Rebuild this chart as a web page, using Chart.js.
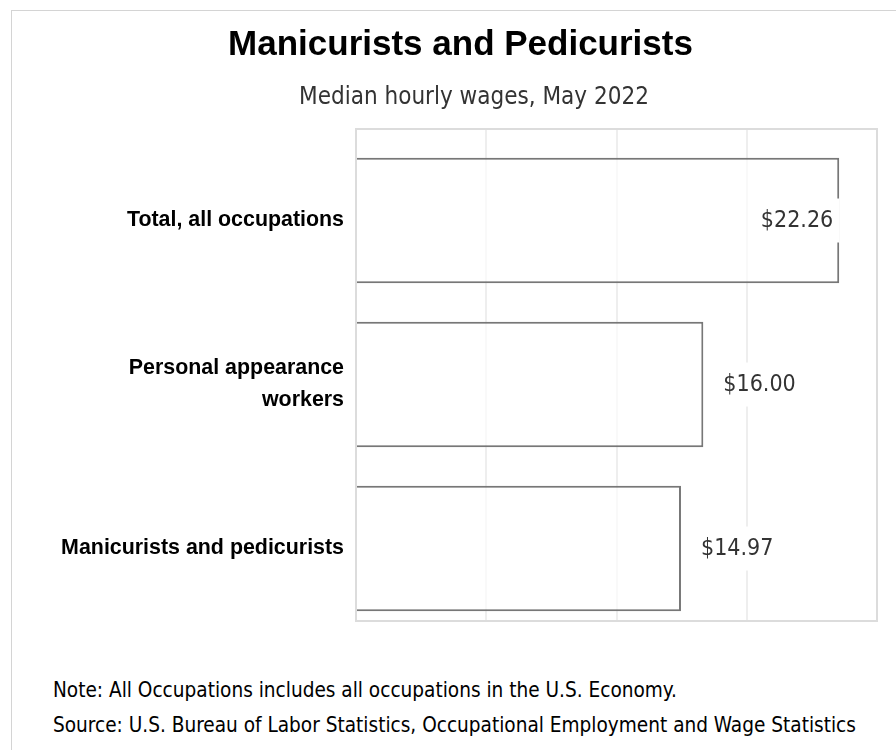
<!DOCTYPE html>
<html>
<head>
<meta charset="utf-8">
<title>Manicurists and Pedicurists</title>
<script src="https://cdn.jsdelivr.net/npm/chart.js@4.4.1/dist/chart.umd.min.js"></script>
<style>
    html, body { margin: 0; padding: 0; background: #fff; overflow: hidden; }
    .frame {
        position: absolute; left: 11px; top: 10px; width: 1000px; height: 1000px;
        border-left: 1px solid #d4d4d4; border-top: 1px solid #d4d4d4;
    }
    #wageChart { position: absolute; left: 0; top: 0; }
    .title {
        position: absolute; left: 0; top: 23px; width: 921px; text-align: center;
        font-family: 'Liberation Sans', Arial, sans-serif; font-weight: bold;
        font-size: 35px; line-height: 40px; color: #000; white-space: nowrap;
    }
    .subtitle {
        position: absolute; left: 0; top: 82px; width: 948px; text-align: center;
        font-family: 'DejaVu Sans Condensed', 'DejaVu Sans', sans-serif;
        font-size: 24px; line-height: 28px; color: #333; white-space: nowrap;
    }
    .notes {
        position: absolute; left: 53px; top: 673px;
        font-family: 'DejaVu Sans Condensed', 'DejaVu Sans', sans-serif;
        font-size: 20.6px; line-height: 35px; color: #000; white-space: nowrap;
    }
</style>
</head>
<body>
<div class="frame"></div>
<canvas id="wageChart" width="896" height="650"></canvas>
<div class="title">Manicurists and Pedicurists</div>
<div class="subtitle">Median hourly wages, May 2022</div>
<div class="notes">
    <div>Note: All Occupations includes all occupations in the U.S. Economy.</div>
    <div>Source: U.S. Bureau of Labor Statistics, Occupational Employment and Wage Statistics</div>
</div>
<script>
    // Chart data
    const categories = [
        'Total, all occupations',
        ['Personal appearance', 'workers'],
        'Manicurists and pedicurists'
    ];
    const hourlyWages = [22.26, 16.00, 14.97];
    const xTicks = [0, 6, 12, 18, 24];

    const labelFont = "'DejaVu Sans Condensed', 'DejaVu Sans', sans-serif";

    // light frame round the plot area
    const plotFrame = {
        id: 'plotFrame',
        beforeDatasetsDraw(chart) {
            const { ctx, chartArea: a } = chart;
            ctx.save();
            ctx.strokeStyle = '#dcdcdc';
            ctx.lineWidth = 2;
            ctx.strokeRect(a.left, a.top, a.right - a.left, a.bottom - a.top);
            ctx.restore();
        }
    };

    // dollar labels next to (or inside) each bar, on a white box
    const valueLabels = {
        id: 'valueLabels',
        afterDatasetsDraw(chart) {
            const { ctx, chartArea } = chart;
            const meta = chart.getDatasetMeta(0);
            ctx.save();
            ctx.font = '23px ' + labelFont;
            ctx.textBaseline = 'middle';
            meta.data.forEach(function (bar, i) {
                const text = '$' + hourlyWages[i].toFixed(2);
                const w = ctx.measureText(text).width;
                let x = bar.x + 20;
                if (x + w + 10 > chartArea.right) {
                    x = bar.x - 6 - w;
                }
                ctx.fillStyle = '#fff';
                ctx.fillRect(x - 6, bar.y - 22, w + 12, 44);
                ctx.fillStyle = '#333';
                ctx.textAlign = 'left';
                ctx.fillText(text, x, bar.y + 1);
            });
            ctx.restore();
        }
    };

    new Chart(document.getElementById('wageChart'), {
        type: 'bar',
        data: {
            datasets: [{
                label: 'Median hourly wage',
                data: hourlyWages.map((v, i) => ({ x: v, y: i })),
                backgroundColor: 'rgba(255, 255, 255, 0.65)',
                borderColor: '#777777',
                borderWidth: 2,
                borderSkipped: 'start',
                categoryPercentage: 0.765,
                barPercentage: 1
            }]
        },
        options: {
            indexAxis: 'y',
            responsive: false,
            animation: false,
            devicePixelRatio: 1,
            layout: {
                padding: { left: 0, right: 19, top: 129, bottom: 29 }
            },
            plugins: {
                legend: { display: false },
                tooltip: { enabled: false },
                title: { display: false }
            },
            scales: {
                x: {
                    min: 0,
                    max: 24,
                    afterBuildTicks: function (scale) {
                        scale.ticks = xTicks.map(v => ({ value: v }));
                    },
                    ticks: { display: false },
                    grid: { color: '#eeeeee', lineWidth: 2, drawTicks: false },
                    border: { display: false }
                },
                y: {
                    type: 'linear',
                    reverse: true,
                    offset: false,
                    min: -0.558,
                    max: 2.442,
                    afterBuildTicks: function (scale) {
                        scale.ticks = categories.map((c, i) => ({ value: i }));
                    },
                    afterFit: function (scale) {
                        scale.width = 356;
                    },
                    ticks: {
                        padding: 12,
                        color: '#000',
                        font: { family: "'Liberation Sans', Arial, sans-serif", size: 21.4, weight: 'bold', lineHeight: 1.5 },
                        callback: function (value) {
                            return categories[value];
                        }
                    },
                    grid: { display: false, drawTicks: false, offset: false },
                    border: { display: false }
                }
            }
        },
        plugins: [plotFrame, valueLabels]
    });
</script>
</body>
</html>
